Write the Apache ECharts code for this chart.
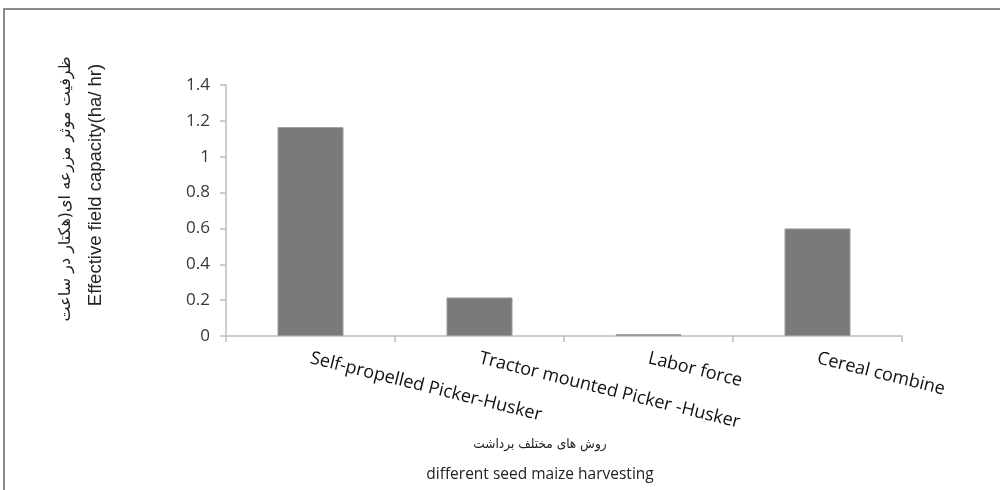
<!DOCTYPE html>
<html>
<head>
<meta charset="utf-8">
<script src="https://cdn.jsdelivr.net/npm/echarts@6/dist/echarts.min.js"></script>
<style>
  html, body { margin: 0; padding: 0; background: #fff; }
  #chart { width: 1000px; height: 490px; }
</style>
</head>
<body>
<div id="chart"></div>
<script>
// harvesting methods and their effective field capacity (ha/hr)
var categories = ['Self-propelled Picker-Husker', 'Tractor mounted Picker -Husker', 'Labor force', 'Cereal combine'];
var capacity = [1.165, 0.215, 0.01, 0.6];
var yTicks = [0, 0.2, 0.4, 0.6, 0.8, 1, 1.2, 1.4];

var chart = echarts.init(document.getElementById('chart'));

var option = {
    animation: false,
    grid: { left: 226, right: 98, top: 85, bottom: 154 },
    xAxis: {
        type: 'category',
        data: categories,
        axisLine: { lineStyle: { color: '#bdbdbd', width: 1.5 } },
        axisTick: { show: true, length: 6, lineStyle: { color: '#bdbdbd', width: 1.5 } },
        axisLabel: {
            rotate: -14,
            interval: 0,
            margin: 22,
            fontFamily: 'Open Sans',
            fontSize: 18,
            color: '#111'
        }
    },
    yAxis: {
        type: 'value',
        min: 0,
        max: 1.4,
        interval: 0.2,
        splitLine: { show: false },
        axisLine: { show: true, lineStyle: { color: '#bdbdbd', width: 1.5 } },
        axisTick: { show: true, length: 6, lineStyle: { color: '#bdbdbd', width: 1.5 } },
        axisLabel: {
            margin: 16,
            fontFamily: 'Open Sans',
            fontSize: 17,
            color: '#383838',
            formatter: function (v) {
                var t = yTicks.find(function (x) { return Math.abs(x - v) < 1e-9; });
                return String(t !== undefined ? t : v);
            }
        }
    },
    series: [{
        type: 'bar',
        data: capacity,
        barWidth: 66,
        itemStyle: { color: '#7a7a7a', borderColor: '#9a9a9a', borderWidth: 1 }
    }],
    graphic: [
        {
            type: 'rect',
            shape: { x: 4, y: 9, width: 1010, height: 500 },
            style: { fill: 'none', stroke: '#8a8a8a', lineWidth: 2 },
            silent: true
        },
        {
            type: 'text',
            x: 66, y: 189,
            rotation: Math.PI / 2,
            style: {
                text: 'ظرفیت موثر مزرعه ای(هکتار در ساعت',
                fontFamily: 'DejaVu Sans',
                fontSize: 16,
                fill: '#222',
                align: 'center',
                verticalAlign: 'middle'
            }
        },
        {
            type: 'text',
            x: 96, y: 185,
            rotation: Math.PI / 2,
            style: {
                text: 'Effective field capacity(ha/ hr)',
                fontFamily: 'Liberation Sans',
                fontSize: 18.5,
                fill: '#222',
                align: 'center',
                verticalAlign: 'middle'
            }
        },
        {
            type: 'text',
            x: 540, y: 444,
            style: {
                text: 'روش های مختلف برداشت',
                fontFamily: 'DejaVu Sans Condensed',
                fontSize: 13.5,
                fill: '#222',
                align: 'center',
                verticalAlign: 'middle'
            }
        },
        {
            type: 'text',
            x: 540, y: 475,
            style: {
                text: 'different seed maize harvesting',
                fontFamily: 'Open Sans',
                fontSize: 15.5,
                fill: '#222',
                align: 'center',
                verticalAlign: 'middle'
            }
        }
    ]
};

chart.setOption(option);
</script>
</body>
</html>
